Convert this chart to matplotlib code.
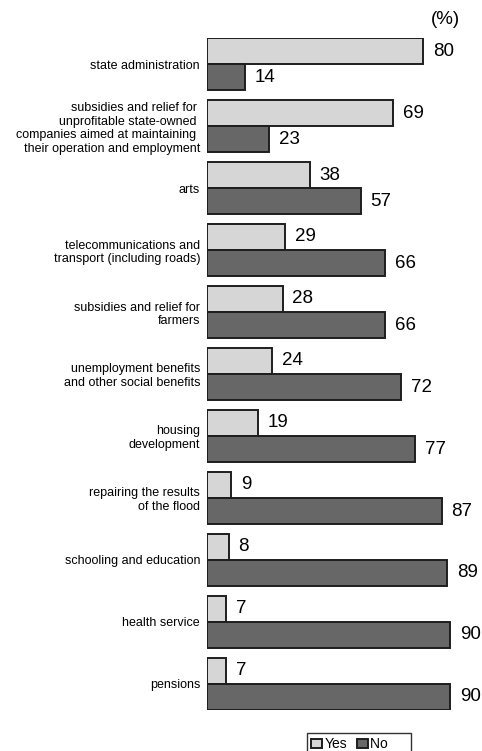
import numpy as np
import matplotlib.pyplot as plt

plt.rcParams['font.family'] = ['Liberation Sans', 'DejaVu Sans']

categories = [
    'state administration',
    'subsidies and relief for \nunprofitable state-owned \ncompanies aimed at maintaining \ntheir operation and employment',
    'arts',
    'telecommunications and\ntransport (including roads)',
    'subsidies and relief for\nfarmers',
    'unemployment benefits\nand other social benefits',
    'housing\ndevelopment',
    'repairing the results\nof the flood',
    'schooling and education',
    'health service',
    'pensions',
]
yes = [80, 69, 38, 29, 28, 24, 19, 9, 8, 7, 7]
no = [14, 23, 57, 66, 66, 72, 77, 87, 89, 90, 90]

W, H = 482, 751
fig = plt.figure(figsize=(W / 100, H / 100), dpi=100)
ax = fig.add_axes([207 / W, 1 - 710 / H, 270 / W, 672 / H])

y = np.arange(len(categories))
h = 0.42
c_yes, c_no, edge = '#d6d6d6', '#676767', '#1e1e1e'

b_yes = ax.barh(y - h / 2, yes, height=h, color=c_yes, edgecolor=edge, linewidth=1.4)
b_no = ax.barh(y + h / 2, no, height=h, color=c_no, edgecolor=edge, linewidth=1.4)

for yi, v in zip(y, yes):
    ax.text(v + 3.6, yi - h / 2, str(v), va='center', ha='left', fontsize=13.5)
for yi, v in zip(y, no):
    ax.text(v + 3.6, yi + h / 2, str(v), va='center', ha='left', fontsize=13.5)

ax.set_xlim(0, 100)
ax.set_ylim(len(categories) - 1 + h, -h)
ax.set_yticks(y)
ax.set_yticklabels(categories, fontsize=9, linespacing=1.2)
ax.tick_params(axis='y', length=0, pad=5)
ax.set_xticks([])
for s in ax.spines.values():
    s.set_visible(False)

fig.text(431 / W, 1 - 20 / H, '(%)', fontsize=13.5, va='center', ha='left')

fig.legend([b_yes, b_no], ['Yes', 'No     '], loc='upper left',
           bbox_to_anchor=(307 / W, 1 - 733 / H), ncol=2,
           fontsize=10, frameon=True, fancybox=False, edgecolor='black',
           handlelength=0.8, handleheight=0.6, handletextpad=0.15,
           columnspacing=0.7, borderpad=0.3, borderaxespad=0)

fig.savefig('out.png', dpi=100)
